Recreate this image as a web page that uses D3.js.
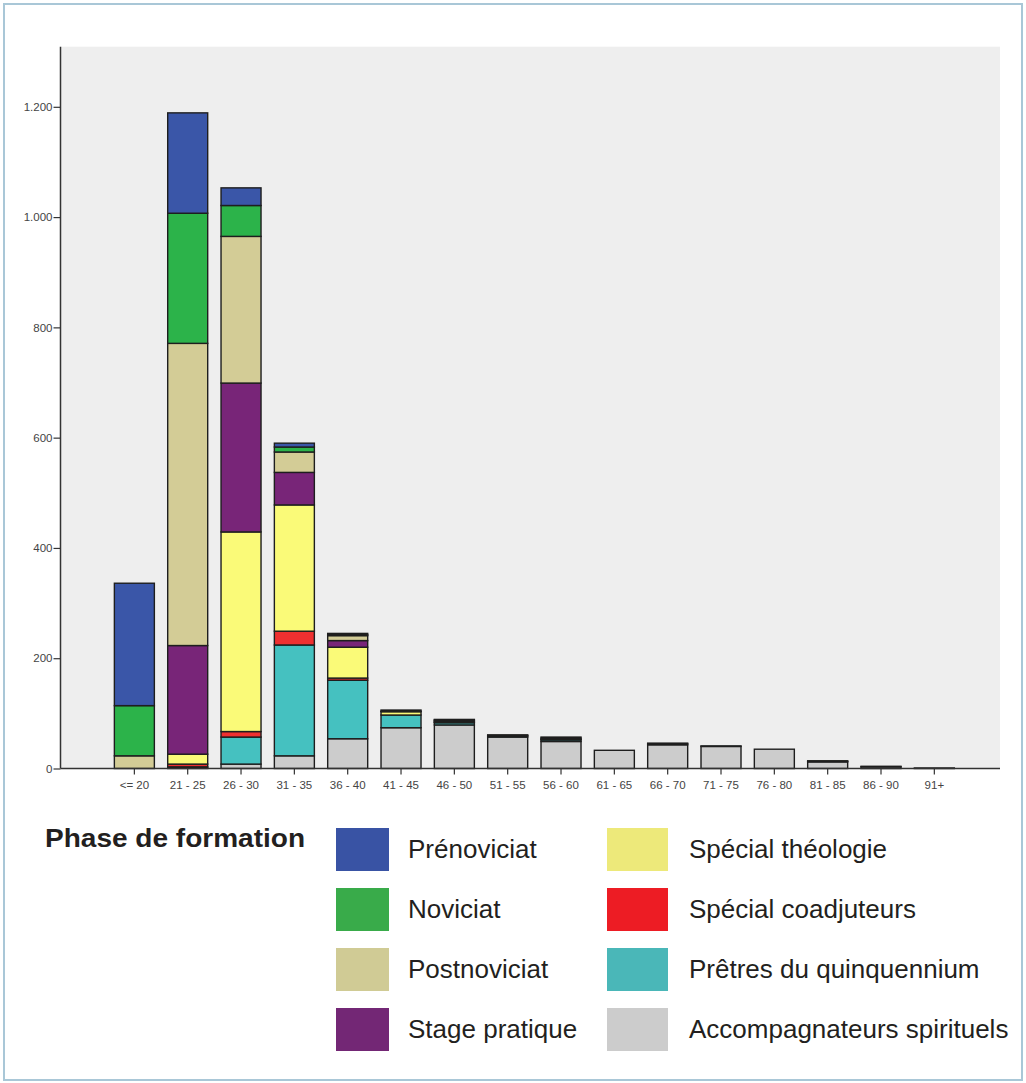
<!DOCTYPE html>
<html>
<head>
<meta charset="utf-8">
<script src="https://cdn.jsdelivr.net/npm/d3@7"></script>
<style>
  body { margin: 0; background: #fff; }
  svg { display: block; font-family: "Liberation Sans", Arial, sans-serif; }
</style>
</head>
<body>
<div id="visContainer"></div>
<script>
'use strict';

// age groups on the x axis
const ageGroups = ["<= 20", "21 - 25", "26 - 30", "31 - 35", "36 - 40", "41 - 45", "46 - 50", "51 - 55",
  "56 - 60", "61 - 65", "66 - 70", "71 - 75", "76 - 80", "81 - 85", "86 - 90", "91+"];

// counts per phase, one value per age group
const prenoviciat      = [222, 182,  32,   7,   2, 0, 1,  0, 0,  0,  0,  0,  0,  0, 0, 0];
const noviciat         = [ 91, 236,  56,   9,   2, 0, 0,  0, 0,  0,  0,  0,  0,  0, 0, 0];
const postnoviciat     = [ 23, 548, 266,  37,   9, 2, 1,  1, 0,  0,  0,  0,  0,  0, 0, 0];
const stagePratique    = [  0, 197, 270,  59,  12, 1, 2,  0, 2,  0,  1,  0,  0,  0, 0, 0];
const specialTheologie = [  0,  18, 362, 229,  56, 6, 1,  1, 2,  0,  0,  0,  0,  1, 0, 0];
const specialCoadj     = [  0,   5,  10,  25,   4, 0, 1,  0, 1,  0,  2,  0,  0,  0, 0, 0];
const pretresQuinq     = [  0,   2,  49, 201, 106, 23, 4, 2, 3,  0,  0,  1,  0,  1, 1, 0];
const accompagnateurs  = [  0,   1,   8,  23,  54, 74, 79, 57, 49, 33, 43, 40, 35, 12, 3, 1];

// legend labels (legend order) and y tick values
const phaseNames = ["Prénoviciat", "Noviciat", "Postnoviciat", "Stage pratique",
  "Spécial théologie", "Spécial coadjuteurs", "Prêtres du quinquennium", "Accompagnateurs spirituels"];
const yTicks = [0, 200, 400, 600, 800, 1000, 1200];

// colours used in the bars and in the printed legend
const barColors    = ["#3a56a8", "#2cb34a", "#d3cc96", "#782578", "#fafa78", "#ef3030", "#45c1c0", "#cccccc"];
const legendColors = ["#3953a4", "#39ab4a", "#d0cb95", "#732775", "#ede97a", "#ed1c24", "#4ab7b8", "#cccccc"];

const seriesValues = [prenoviciat, noviciat, postnoviciat, stagePratique,
  specialTheologie, specialCoadj, pretresQuinq, accompagnateurs];

// build one row per age group for d3.stack
var table = ageGroups.map(function(g, i) {
  var row = {group: g};
  phaseNames.forEach(function(name, k) { row[name] = seriesValues[k][i]; });
  return row;
});

var svg = d3.select('#visContainer')
    .append('svg')
    .attr('width', 1026)
    .attr('height', 1083);

// card border
svg.append('rect')
  .attr('x', 4).attr('y', 4)
  .attr('width', 1018).attr('height', 1076)
  .attr('fill', '#fff')
  .attr('stroke', '#a9c7d7')
  .attr('stroke-width', 2);

// plot frame
var plot = {left: 60.5, right: 1000, top: 46.7, bottom: 768.5};

svg.append('rect')
  .attr('x', plot.left).attr('y', plot.top)
  .attr('width', plot.right - plot.left)
  .attr('height', plot.bottom - plot.top)
  .attr('fill', '#eeeeee');

var x = d3.scaleBand()
  .domain(ageGroups)
  .range([107.7, 961])
  .paddingInner(0.25)
  .paddingOuter(0.125);

var y = d3.scaleLinear()
  .domain([0, 1309])
  .range([plot.bottom, plot.top]);

// stack from the bottom: accompagnateurs first, prénoviciat on top
var keys = phaseNames.slice().reverse();
var stacked = d3.stack().keys(keys)(table);

var layers = svg.append('g').selectAll('g')
  .data(stacked)
  .enter().append('g')
  .attr('fill', function(d) { return barColors[phaseNames.indexOf(d.key)]; });

// zero segments are skipped so they leave no outline
layers.selectAll('rect')
  .data(function(d) { return d.filter(function(p) { return p[1] - p[0] > 0; }); })
  .enter().append('rect')
  .attr('x', function(d) { return x(d.data.group); })
  .attr('y', function(d) { return y(d[1]); })
  .attr('width', x.bandwidth())
  .attr('height', function(d) { return y(d[0]) - y(d[1]); })
  .attr('stroke', '#1e1e1e')
  .attr('stroke-width', 1.4);

// axes
var fmt = d3.formatLocale({decimal: ",", thousands: ".", grouping: [3], currency: ["", "€"]}).format(",d");

var yAxis = svg.append('g')
  .attr('transform', 'translate(' + plot.left + ',0)')
  .call(d3.axisLeft(y).tickValues(yTicks).tickFormat(fmt).tickSize(7).tickPadding(1).tickSizeOuter(0));
yAxis.select('.domain').remove();

var xAxis = svg.append('g')
  .attr('transform', 'translate(0,' + plot.bottom + ')')
  .call(d3.axisBottom(x).tickSize(6).tickPadding(6).tickSizeOuter(0));
xAxis.select('.domain').remove();

svg.selectAll('.tick line').attr('stroke', '#333').attr('stroke-width', 1.2);
svg.selectAll('.tick text')
  .attr('fill', '#444')
  .style('font-size', '11.5px')
  .style('font-family', '"Liberation Sans", Arial, sans-serif');

svg.append('line')
  .attr('x1', plot.left).attr('x2', plot.left)
  .attr('y1', plot.top).attr('y2', plot.bottom)
  .attr('stroke', '#333').attr('stroke-width', 1.5);
svg.append('line')
  .attr('x1', plot.left).attr('x2', plot.right)
  .attr('y1', plot.bottom).attr('y2', plot.bottom)
  .attr('stroke', '#333').attr('stroke-width', 1.5);

// legend
svg.append('text')
  .attr('x', 45).attr('y', 846.7)
  .attr('textLength', 260)
  .attr('lengthAdjust', 'spacingAndGlyphs')
  .style('font-size', '25px')
  .style('font-weight', 900)
  .attr('fill', '#231f20')
  .text('Phase de formation');

var legendCols = [{sx: 336, sw: 53, tx: 408}, {sx: 607, sw: 61, tx: 689}];

var items = svg.append('g').selectAll('g')
  .data(phaseNames)
  .enter().append('g')
  .attr('transform', function(d, i) { return 'translate(0,' + (828 + (i % 4) * 60) + ')'; });

items.append('rect')
  .attr('x', function(d, i) { return legendCols[Math.floor(i / 4)].sx; })
  .attr('width', function(d, i) { return legendCols[Math.floor(i / 4)].sw; })
  .attr('height', 43)
  .attr('fill', function(d, i) { return legendColors[i]; });

items.append('text')
  .attr('x', function(d, i) { return legendCols[Math.floor(i / 4)].tx; })
  .attr('y', 30.3)
  .style('font-size', '26px')
  .attr('fill', '#231f20')
  .text(function(d) { return d; });
</script>
</body>
</html>
